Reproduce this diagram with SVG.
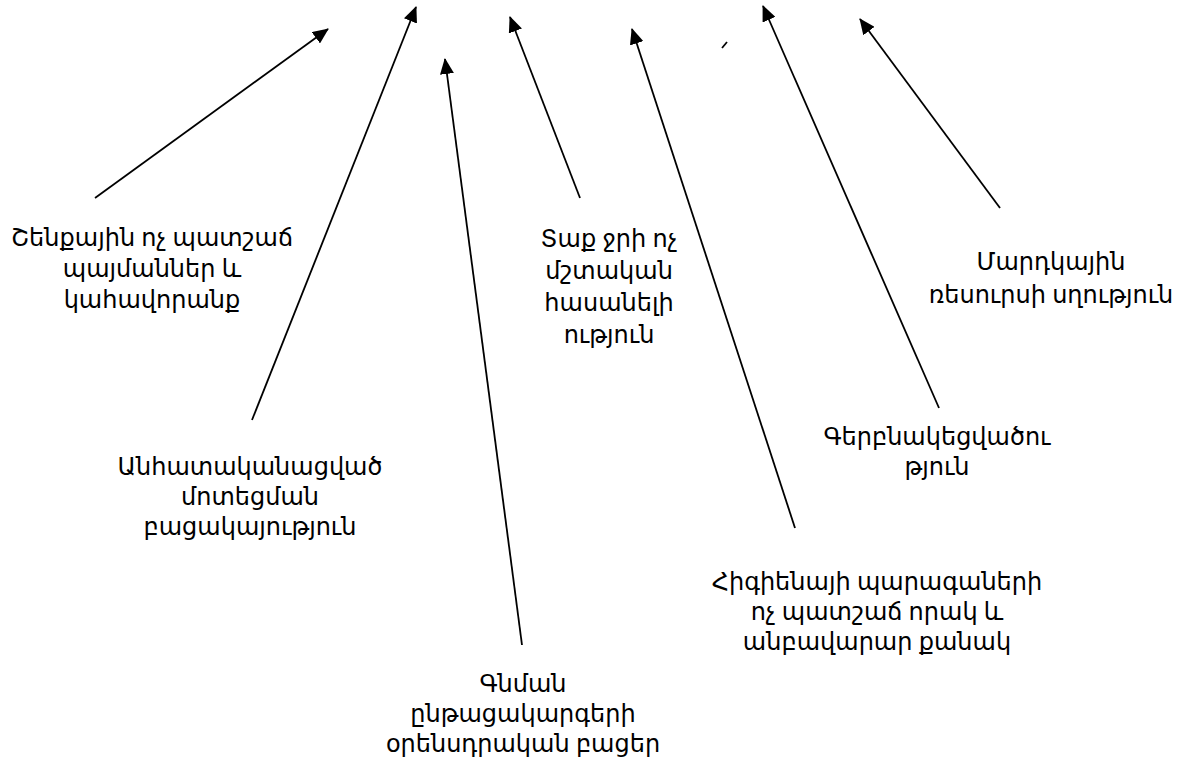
<svg xmlns="http://www.w3.org/2000/svg" width="1180" height="763" viewBox="0 0 1180 763">
<style>
text{font-family:"Noto Sans","DejaVu Sans",sans-serif;font-size:24px;fill:#000;text-anchor:middle}
.c line{stroke:#000;stroke-width:1.8;fill:none}
</style>
<defs>
<marker id="ah" viewBox="0 0 16 14" refX="15" refY="7" markerWidth="16" markerHeight="14" markerUnits="userSpaceOnUse" orient="auto">
<path d="M0,0 L16,7 L0,14 z" fill="#000"/>
</marker>
</defs>
<rect width="1180" height="763" fill="#fff"/>
<g class="c" id="connectors">
<line x1="95" y1="198" x2="328" y2="29" marker-end="url(#ah)"/>
<line x1="252" y1="420" x2="416" y2="7" marker-end="url(#ah)"/>
<line x1="522" y1="645" x2="445" y2="59" marker-end="url(#ah)"/>
<line x1="580" y1="198" x2="510" y2="17" marker-end="url(#ah)"/>
<line x1="795" y1="528" x2="632" y2="29" marker-end="url(#ah)"/>
<line x1="939" y1="408" x2="763" y2="6" marker-end="url(#ah)"/>
<line x1="1000" y1="208" x2="860" y2="19" marker-end="url(#ah)"/>
<line x1="727" y1="42" x2="722" y2="48"/>
</g>
<g id="n1"><text x="152" y="246">Շենքային ոչ պատշաճ</text><text x="152" y="277">պայմաններ և</text><text x="152" y="308">կահավորանք</text></g>
<g id="n2"><text x="250" y="475">Անհատականացված</text><text x="250" y="505">մոտեցման</text><text x="250" y="535">բացակայություն</text></g>
<g id="n3"><text x="523" y="692">Գնման</text><text x="523" y="722">ընթացակարգերի</text><text x="523" y="752">օրենսդրական բացեր</text></g>
<g id="n4"><text x="609" y="247">Տաք ջրի ոչ</text><text x="609" y="279">մշտական</text><text x="609" y="311">հասանելի</text><text x="609" y="343">ություն</text></g>
<g id="n5"><text x="877" y="590">Հիգիենայի պարագաների</text><text x="877" y="620">ոչ պատշաճ որակ և</text><text x="877" y="650">անբավարար քանակ</text></g>
<g id="n6"><text x="937" y="445">Գերբնակեցվածու</text><text x="937" y="475">թյուն</text></g>
<g id="n7"><text x="1051" y="270">Մարդկային</text><text x="1051" y="303">ռեսուրսի սղություն</text></g>
</svg>
